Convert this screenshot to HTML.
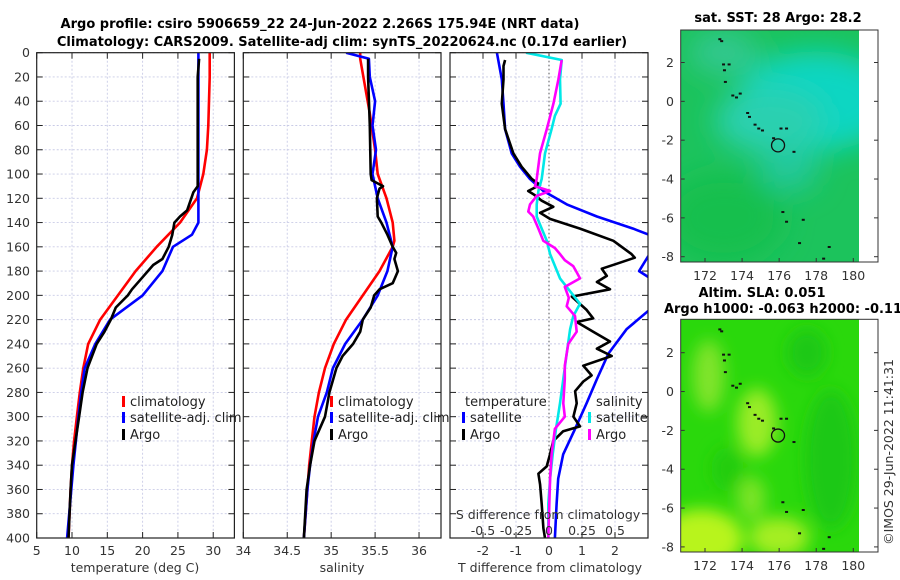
<!DOCTYPE html>
<html><head><meta charset="utf-8">
<style>
body{margin:0;background:#fff;}
svg{display:block;font-family:"DejaVu Sans","Liberation Sans",sans-serif;}
.tk{font-size:12.5px;fill:#333;}
.ttl{font-size:13px;font-weight:bold;fill:#000;}
.lg{font-size:13px;fill:#222;}
</style></head>
<body>
<svg id="chart" width="900" height="580" viewBox="0 0 900 580" xmlns="http://www.w3.org/2000/svg">
<defs>
<clipPath id="c1"><rect x="36.7" y="52.7" width="197.7" height="485.3"/></clipPath>
<clipPath id="c2"><rect x="243.3" y="52.7" width="197.7" height="485.3"/></clipPath>
<clipPath id="c3"><rect x="450" y="52.7" width="198" height="485.3"/></clipPath>
<clipPath id="m1c"><rect x="681" y="30" width="178" height="232"/></clipPath>
<clipPath id="m2c"><rect x="681" y="319.3" width="178" height="233"/></clipPath>
<filter id="blur" x="-50%" y="-50%" width="200%" height="200%"><feGaussianBlur stdDeviation="14"/></filter>
<filter id="blur2" x="-50%" y="-50%" width="200%" height="200%"><feGaussianBlur stdDeviation="8"/></filter>
</defs>
<text class="ttl" x="320" y="28" text-anchor="middle">Argo profile: csiro 5906659_22 24-Jun-2022 2.266S 175.94E (NRT data)</text>
<text class="ttl" x="342" y="46" text-anchor="middle">Climatology: CARS2009. Satellite-adj clim: synTS_20220624.nc (0.17d earlier)</text>
<g id="p1"></g>
<g id="p2"></g>
<g id="p3"></g>
<g id="maps"></g>
<text class="tk" transform="translate(893,452) rotate(-90)" text-anchor="middle">©IMOS 29-Jun-2022 11:41:31</text>
</svg>
<script>
// ---------- data ----------
const depthTicks=[0,20,40,60,80,100,120,140,160,180,200,220,240,260,280,300,320,340,360,380,400];
const tTicks=[5,10,15,20,25,30];
const sTicks=[34,34.5,35,35.5,36];
const dtTicks=[-2,-1,0,1,2];
const dsTicks=[-0.5,-0.25,0,0.25,0.5];
const dsTickLabels=['-0.5','-0.25','0','0.25','0.5'];
const lonTicks=[172,174,176,178,180];
const latTicks=[2,0,-2,-4,-6,-8];

const tClimDepth=[0,20,40,60,80,100,120,140,160,180,200,220,240,260,280,300,320,340,360,400];
const tClim=[29.5,29.5,29.4,29.3,29.1,28.6,27.7,25.3,22.0,19.0,16.5,14.0,12.3,11.6,11.1,10.7,10.3,10.0,9.8,9.5];
const tSatDepth=[0,20,40,60,80,100,120,140,150,160,180,200,220,240,260,280,300,340,400];
const tSat=[27.9,27.9,27.9,27.9,27.9,27.9,27.9,27.9,27.0,24.3,22.8,20.0,15.4,13.3,11.8,11.3,10.9,10.2,9.3];
const tArgoDepth=[5,20,40,60,80,100,110,115,120,130,135,140,150,160,170,175,185,195,200,210,220,230,240,260,280,300,320,340,360,400];
const tArgo=[28.0,27.8,27.8,27.8,27.8,27.8,27.8,27.2,26.9,26.3,25.3,24.5,24.2,23.7,22.8,21.5,20.0,18.5,17.9,16.2,15.5,14.6,13.5,12.2,11.5,11.0,10.5,10.0,9.8,9.5];

const sClimDepth=[0,5,50,80,100,120,140,155,160,180,200,220,240,260,280,300,320,340,360,400];
const sClim=[35.33,35.33,35.44,35.50,35.53,35.63,35.70,35.72,35.70,35.55,35.36,35.17,35.03,34.93,34.86,34.81,34.78,34.75,34.73,34.69];
const sSatDepth=[0,5,20,40,60,80,100,110,120,140,160,180,200,220,240,260,280,300,320,340,360,400];
const sSat=[35.17,35.43,35.44,35.50,35.47,35.51,35.47,35.50,35.53,35.63,35.70,35.64,35.53,35.36,35.16,35.02,34.95,34.85,34.80,34.76,34.73,34.69];
const sArgoDepth=[5,20,60,100,105,110,112,120,135,140,150,160,165,170,180,185,190,195,200,210,220,230,240,250,260,270,280,300,310,320,340,360,400];
const sArgo=[35.42,35.42,35.44,35.45,35.46,35.59,35.55,35.52,35.53,35.57,35.64,35.70,35.74,35.72,35.76,35.73,35.70,35.55,35.49,35.45,35.36,35.33,35.25,35.13,35.06,35.02,34.98,34.93,34.87,34.81,34.76,34.72,34.69];

const dtSatDepth=[0,22,42,63,83,94,104,114,125,135,145,155,160,168,180,190,200,213,228,248,269,289,310,331,351,372,400];
const dtSat=[-1.58,-1.43,-1.38,-1.33,-1.13,-0.88,-0.58,-0.17,0.54,1.45,2.55,3.5,3.3,3.0,2.73,3.3,4.5,3.0,2.35,1.8,1.45,1.14,0.79,0.43,0.28,0.23,0.18];
const dtArgoDepth=[6,11,22,42,63,83,94,104,109,114,117,122,127,132,137,145,155,166,169,174,178,184,189,195,201,212,219,222,230,238,244,250,258,266,271,279,289,300,308,312,320,331,341,347,356,372,392,400];
const dtArgo=[-1.33,-1.38,-1.38,-1.43,-1.33,-1.08,-0.83,-0.52,-0.27,-0.63,-0.45,-0.22,0.13,-0.27,0.03,0.94,1.95,2.5,2.6,2.05,1.6,1.75,1.45,1.85,0.69,1.14,1.34,0.84,1.34,1.85,1.45,1.9,1.04,1.29,1.04,0.79,0.84,0.74,0.94,0.43,0.13,0.03,-0.07,-0.32,-0.27,-0.22,-0.17,-0.12];
const dsSatDepth=[0,6,22,42,52,63,83,104,114,125,135,145,155,166,186,207,217,228,248,269,289,310,331,351,372,400];
const dsSat=[-0.174,0.096,0.083,0.088,0.045,0.02,-0.03,-0.055,-0.08,-0.093,-0.093,-0.055,-0.017,0.008,0.083,0.235,0.184,0.16,0.134,0.108,0.083,0.053,0.028,0.008,-0.005,-0.005];
const dsArgoDepth=[6,22,42,63,83,104,110,114,118,125,131,135,145,155,161,166,171,176,181,186,193,202,209,217,230,240,248,258,269,289,300,310,331,351,400];
const dsArgo=[0.096,0.071,0.033,-0.017,-0.068,-0.093,-0.106,0.008,-0.093,-0.144,-0.157,-0.12,-0.08,-0.043,0.045,0.083,0.12,0.184,0.21,0.235,0.12,0.15,0.134,0.197,0.21,0.146,0.134,0.12,0.12,0.108,0.12,0.045,0.02,0.008,-0.005];

const coastLon=[172.8,172.9,173.0,173.05,173.1,173.3,173.5,173.7,173.9,174.3,174.4,174.7,174.9,175.1,175.7,176.1,176.4,176.8,176.2,176.4,177.3,177.1,178.7,178.4];
const coastLat=[3.2,3.1,1.9,1.6,1.0,1.9,0.3,0.2,0.4,-0.6,-0.8,-1.2,-1.4,-1.5,-1.9,-1.4,-1.4,-2.6,-5.7,-6.2,-6.1,-7.3,-7.5,-8.1];
const argoLon=175.94;
const argoLat=-2.266;

// ---------- helpers ----------
const NS='http://www.w3.org/2000/svg';
function mk(tag,attrs,parent){const e=document.createElementNS(NS,tag);for(const k in attrs)e.setAttribute(k,attrs[k]);parent.appendChild(e);return e;}
const Y0=52.7,Y1=538;
const yD=d=>Y0+(d/400)*(Y1-Y0);
function lin(d0,d1,r0,r1){return v=>r0+(v-d0)/(d1-d0)*(r1-r0);}

function panel(g,x0,x1,xs,ticks,labels,clip,labelY){
  mk('rect',{x:x0,y:Y0,width:x1-x0,height:Y1-Y0,fill:'#fff'},g);
  depthTicks.forEach(d=>{
    const l=mk('line',{x1:x0,x2:x1,y1:yD(d),y2:yD(d),stroke:'#c9cbe6','stroke-width':0.9,'stroke-dasharray':'2,2'},g);
    
    
    mk('line',{x1:x0,x2:x0+6,y1:yD(d),y2:yD(d),stroke:'#222','stroke-width':1},g);
    mk('line',{x1:x1-6,x2:x1,y1:yD(d),y2:yD(d),stroke:'#222','stroke-width':1},g);
  });
  ticks.forEach((t,i)=>{
    const x=xs(t);
    if(x>x0+1&&x<x1-1){
      const l=mk('line',{x1:x,x2:x,y1:Y0,y2:Y1,stroke:'#c9cbe6','stroke-width':0.9,'stroke-dasharray':'2,2'},g);
      
      
    }
    mk('line',{x1:x,x2:x,y1:Y1,y2:Y1-6,stroke:'#222'},g);
    mk('line',{x1:x,x2:x,y1:Y0,y2:Y0+6,stroke:'#222'},g);
    if(labels){const tx=mk('text',{x:x,y:labelY,'text-anchor':'middle',class:'tk'},g);tx.textContent=labels[i];
      
      }
  });
}
function series(g,depths,vals,xs,color,clip,name){
  const pts=depths.map((d,i)=>xs(vals[i]).toFixed(1)+','+yD(d).toFixed(1)).join(' ');
  const p=mk('polyline',{points:pts,fill:'none',stroke:color,'stroke-width':2.6,'stroke-linejoin':'round','clip-path':'url(#'+clip+')'},g);
  
  
}
function frame(g,x0,x1){mk('rect',{x:x0,y:Y0,width:x1-x0,height:Y1-Y0,fill:'none',stroke:'#222','stroke-width':1.2},g);}
function legend(g,x,y,color,label,name){
  mk('rect',{x:x,y:y-10,width:3,height:11,fill:color},g);
  const t=mk('text',{x:x+8,y:y,class:'lg'},g);t.textContent=label;
  
  
}

// ---------- panel 1 ----------
const g1=document.getElementById('p1');
const xT=lin(5,33,36.7,234.4);
panel(g1,36.7,234.4,xT,tTicks,tTicks.map(String),'c1',555);
depthTicks.forEach(d=>{const t=mk('text',{x:30,y:yD(d)+4.5,'text-anchor':'end',class:'tk'},g1);t.textContent=d;
  
  });
series(g1,tClimDepth,tClim,xT,'#ff0000','c1','temp-climatology-line');
series(g1,tSatDepth,tSat,xT,'#0000ff','c1','temp-satellite-line');
series(g1,tArgoDepth,tArgo,xT,'#000000','c1','temp-argo-line');
frame(g1,36.7,234.4);
legend(g1,122,406,'#ff0000','climatology','legend-climatology');
legend(g1,122,422,'#0000ff','satellite-adj. clim','legend-satellite');
legend(g1,122,439,'#000000','Argo','legend-argo');
{const t=mk('text',{x:135,y:572,'text-anchor':'middle',class:'tk'},g1);t.textContent='temperature (deg C)';
}

// ---------- panel 2 ----------
const g2=document.getElementById('p2');
const xS=lin(34,36.25,243.3,441);
panel(g2,243.3,441,xS,sTicks,['34','34.5','35','35.5','36'],'c2',555);
series(g2,sClimDepth,sClim,xS,'#ff0000','c2','sal-climatology-line');
series(g2,sSatDepth,sSat,xS,'#0000ff','c2','sal-satellite-line');
series(g2,sArgoDepth,sArgo,xS,'#000000','c2','sal-argo-line');
frame(g2,243.3,441);
legend(g2,330,406,'#ff0000','climatology','legend-climatology-2');
legend(g2,330,422,'#0000ff','satellite-adj. clim','legend-satellite-2');
legend(g2,330,439,'#000000','Argo','legend-argo-2');
{const t=mk('text',{x:342,y:572,'text-anchor':'middle',class:'tk'},g2);t.textContent='salinity';
}

// ---------- panel 3 ----------
const g3=document.getElementById('p3');
const xDT=lin(-3,3,450,648);
const xDS=lin(-0.75,0.75,450,648);
panel(g3,450,648,xDT,dtTicks,dtTicks.map(String),'c3',555);
mk('line',{x1:xDT(0),x2:xDT(0),y1:Y0,y2:Y1,stroke:'#555','stroke-width':1,'stroke-dasharray':'1.5,2.5'},g3);
series(g3,dtSatDepth,dtSat,xDT,'#0000ff','c3','tdiff-satellite-line');
series(g3,dtArgoDepth,dtArgo,xDT,'#000000','c3','tdiff-argo-line');
series(g3,dsSatDepth,dsSat,xDS,'#00e8e8','c3','sdiff-satellite-line');
series(g3,dsArgoDepth,dsArgo,xDS,'#ff00ff','c3','sdiff-argo-line');
frame(g3,450,648);
{const t=mk('text',{x:465,y:406,class:'lg'},g3);t.textContent='temperature';}
legend(g3,462,422,'#0000ff','satellite','legend-t-satellite');
legend(g3,462,439,'#000000','Argo','legend-t-argo');
{const t=mk('text',{x:596,y:406,class:'lg'},g3);t.textContent='salinity';}
legend(g3,588,422,'#00e8e8','satellite','legend-s-satellite');
legend(g3,588,439,'#ff00ff','Argo','legend-s-argo');
{const t=mk('text',{x:548,y:519,'text-anchor':'middle',class:'tk'},g3);t.textContent='S difference from climatology';}
dsTicks.forEach((v,i)=>{const t=mk('text',{x:xDS(v),y:535,'text-anchor':'middle',class:'tk'},g3);t.textContent=dsTickLabels[i];
  
  });
{const t=mk('text',{x:550,y:572,'text-anchor':'middle',class:'tk'},g3);t.textContent='T difference from climatology';}

// ---------- maps ----------
const gm=document.getElementById('maps');
const xLon=lin(172,180,705,853.3);
function drawMap(top,bot,lat2y,lat8y,kind,titleLines,name){
  const yLat=lin(2,-8,lat2y,lat8y);
  const g=mk('g',{},gm);
  
  
  const clip=kind==='sst'?'m1c':'m2c';
  const bg=mk('g',{'clip-path':'url(#'+clip+')'},g);
  if(kind==='sst'){
    mk('rect',{x:681,y:top,width:178,height:bot-top,fill:'#1cc35c'},bg);
    const b=mk('g',{filter:'url(#blur)'},bg);
    mk('ellipse',{cx:xLon(178),cy:yLat(0),rx:80,ry:50,fill:'#10d6c2'},b);
    mk('ellipse',{cx:xLon(175.5),cy:yLat(-1),rx:55,ry:32,fill:'#2ad0b0'},b);
    mk('ellipse',{cx:xLon(173),cy:yLat(2.5),rx:35,ry:22,fill:'#30c890'},b);
    mk('ellipse',{cx:xLon(176.5),cy:yLat(-3.5),rx:30,ry:22,fill:'#22c89a'},b);
    mk('ellipse',{cx:xLon(173),cy:yLat(-6),rx:60,ry:45,fill:'#18bf4e'},b);
  } else {
    mk('rect',{x:681,y:top,width:178,height:bot-top,fill:'#2ad80c'},bg);
    const b=mk('g',{filter:'url(#blur2)'},bg);
    mk('ellipse',{cx:xLon(171.8),cy:yLat(-7.6),rx:42,ry:30,fill:'#b8f41a'},b);
    mk('ellipse',{cx:xLon(174.8),cy:yLat(-1.6),rx:20,ry:34,fill:'#9aec28'},b);
    mk('ellipse',{cx:xLon(172.2),cy:yLat(0.8),rx:16,ry:36,fill:'#80e42a'},b);
    mk('ellipse',{cx:xLon(176),cy:yLat(-7.5),rx:30,ry:20,fill:'#a4ee22'},b);
    mk('ellipse',{cx:xLon(174.5),cy:yLat(-5.5),rx:14,ry:22,fill:'#7ce428'},b);
    mk('ellipse',{cx:xLon(178.8),cy:yLat(-3.5),rx:26,ry:70,fill:'#1cc812'},b);
    mk('ellipse',{cx:xLon(177.5),cy:yLat(2),rx:20,ry:24,fill:'#1ec812'},b);
    mk('ellipse',{cx:xLon(173.2),cy:yLat(-4),rx:16,ry:22,fill:'#22cc10'},b);
  }
  coastLon.forEach((lo,i)=>{mk('rect',{x:xLon(lo)-1.5,y:yLat(coastLat[i])-1,width:3,height:2,fill:'#111'},g);});
  const c=mk('circle',{cx:xLon(argoLon),cy:yLat(argoLat),r:6.5,fill:'none',stroke:'#111','stroke-width':1.3},g);
  
  
  mk('rect',{x:680.7,y:top,width:197.3,height:bot-top,fill:'none',stroke:'#333','stroke-width':1},g);
  latTicks.forEach(l=>{const y=yLat(l);
    mk('line',{x1:680.7,x2:684.7,y1:y,y2:y,stroke:'#333'},g);
    mk('line',{x1:874,x2:878,y1:y,y2:y,stroke:'#333'},g);
    const t=mk('text',{x:674,y:y+4.5,'text-anchor':'end',class:'tk'},g);t.textContent=l;
    
    });
  lonTicks.forEach(lo=>{const x=xLon(lo);
    mk('line',{x1:x,x2:x,y1:bot,y2:bot-4,stroke:'#333'},g);
    const t=mk('text',{x:x,y:bot+18,'text-anchor':'middle',class:'tk'},g);t.textContent=lo;
    
    });
  titleLines.forEach((s,i)=>{const t=mk('text',{x:s[1],y:s[2],'text-anchor':'middle',class:'ttl'},g);t.textContent=s[0];
    
    });
}
drawMap(30,262,62.5,256.7,'sst',[['sat. SST: 28 Argo: 28.2',778,22]],'sst-map');
drawMap(319.3,552,352.7,546.9,'sla',[['Altim. SLA: 0.051',762,297],['Argo h1000: -0.063 h2000: -0.11',783,313]],'sla-map');
</script>
</body></html>
